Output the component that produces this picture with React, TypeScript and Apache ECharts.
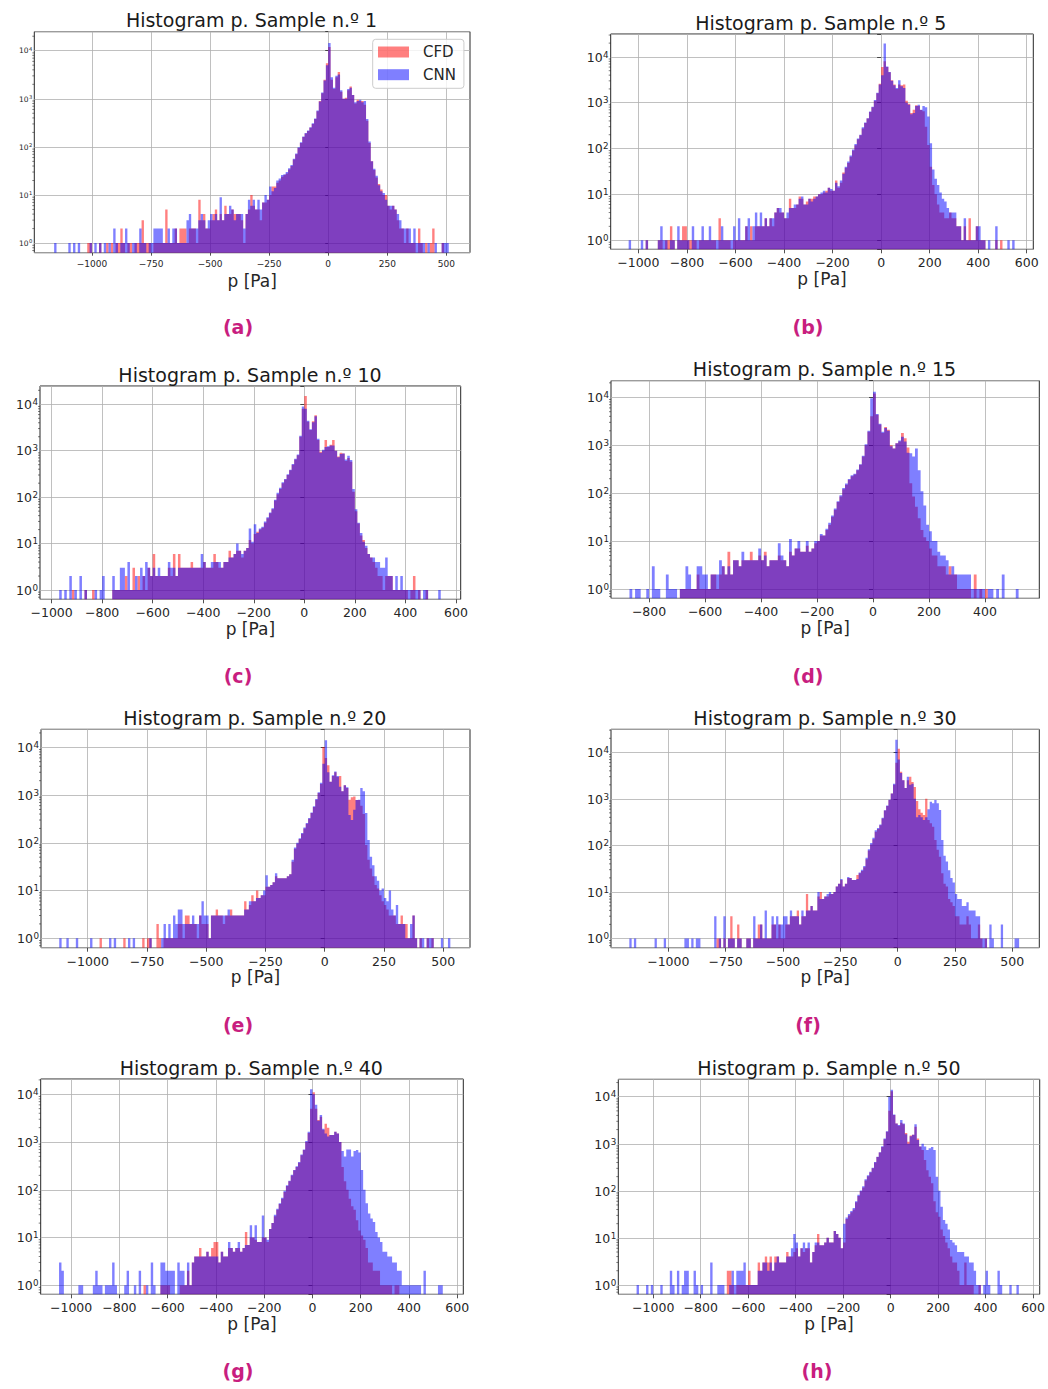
import React, { useEffect, useRef } from "react";
import * as echarts from "echarts";

const FONT = "DejaVu Sans";
const BIN_WIDTH = 10;
const TXT = "#262626";

const titles = [
  "Histogram p. Sample n.º 1",
  "Histogram p. Sample n.º 5",
  "Histogram p. Sample n.º 10",
  "Histogram p. Sample n.º 15",
  "Histogram p. Sample n.º 20",
  "Histogram p. Sample n.º 30",
  "Histogram p. Sample n.º 40",
  "Histogram p. Sample n.º 50",
];
const panelLetters = ["(a)", "(b)", "(c)", "(d)", "(e)", "(f)", "(g)", "(h)"];
const seriesNames = ["CFD", "CNN"];

const ticks250 = [-1000, -750, -500, -250, 0, 250, 500];
const ticks200 = [-1000, -800, -600, -400, -200, 0, 200, 400, 600];
const ticks200d = [-800, -600, -400, -200, 0, 200, 400];

// ---- Sample 1 (a) : bins of 10 Pa starting at -1160
const startA = -1160;
const cfdA = [
  0,0,0,0,0,0,0,0,0,0, 0,0,0,0,1,1,0,0,0,1, 0,0,1,0,1,0,1,1,2,1, 0,1,1,0,1,1,1,3,1,1,
  1,0,1,1,1,1,1,5,1,1, 1,2,1,2,2,2,1,2,2,2, 1,8,3,4,2,2,3,4,5,3, 4,3,6,4,4,5,4,4,4,3,
  1,4,5,10,6,5,5,3,7,7, 8,10,15,15,18,20,24,26,28,34, 40,55,70,95,120,160,190,215,250,300,
  380,550,900,1300,2500,5500,12000,2500,1600,2800, 3600,1400,1000,1050,1500,1800,1200,800,950,900,
  900,750,350,120,50,33,23,17,13,10, 10,6,5,6,5,3,2,2,1,2, 1,1,1,0,2,1,0,1,0,1, 2,0,0,0,1,0,0,0,
];
const cnnA = [
  1,0,0,0,0,0,1,0,1,0, 1,0,0,0,0,1,0,1,0,1, 0,1,0,1,0,2,1,0,1,1, 2,1,0,1,1,0,2,1,1,0,
  1,1,2,2,2,2,1,1,2,1, 2,2,1,1,1,1,3,4,2,2, 2,3,4,3,2,3,4,3,4,3, 9,3,4,4,6,5,3,4,4,4,
  2,4,8,6,8,5,8,5,7,10, 8,15,12,14,20,22,26,27,30,36, 42,57,73,98,125,165,195,220,255,310,
  390,570,880,1350,2400,5000,14500,2800,1700,3000, 3200,1500,1000,1000,1600,1700,1200,850,900,950,
  850,900,380,130,50,35,25,16,12,11, 8,6,6,6,5,4,3,2,2,2, 2,1,2,1,1,1,1,0,1,0, 0,1,0,0,1,1,1,0,
];

// ---- Sample 5 (b)
const startB = -1040;
const cfdB = [
  0,0,0,0,0,0,0,1,0,0, 0,0,1,1,0,1,1,2,1,0, 1,1,2,2,1,1,1,1,0,1, 1,1,1,1,1,1,0,3,1,1,
  1,1,0,1,1,1,1,1,2,1, 2,1,2,2,2,2,3,2,3,2, 4,5,4,4,3,3,8,5,5,6, 9,8,6,7,8,8,9,9,10,10,
  11,12,14,12,12,20,14,18,30,38, 48,66,90,118,160,195,275,360,450,630,
  800,1100,1600,2600,6000,8000,6000,4600,3100,2500, 2000,2500,2400,2500,1100,950,600,700,880,850,
  690,650,300,120,40,16,10,6,4,4, 3,3,4,3,3,2,2,1,2,1, 3,1,1,2,1,1,1,0,0,0, 0,1,0,1,0,0,0,0,0,0,
];
const cnnB = [
  1,0,0,0,0,1,0,1,0,0, 0,0,1,2,1,1,0,1,1,0, 2,1,1,1,1,0,2,1,1,1, 2,1,1,2,1,1,1,1,2,1,
  1,1,1,2,1,3,1,1,2,3, 1,2,4,2,4,2,3,2,3,3, 4,5,5,4,3,4,5,5,6,6, 8,9,6,6,8,7,8,9,10,11,
  12,11,14,13,12,18,15,20,28,40, 52,70,95,125,165,200,290,370,460,640,
  820,1150,1650,2500,4000,19500,6200,4700,3000,2400, 2100,3100,2300,2100,1000,900,560,600,850,900,
  700,850,800,500,130,35,22,16,11,8, 7,5,4,4,4,2,2,1,3,1, 1,1,1,2,2,1,1,0,1,0, 0,2,0,0,0,0,1,0,1,0,
];

// ---- Sample 10 (c)
const startC = -980;
const cfdC = [
  0,0,0,0,0,0,1,0,0,0, 0,1,0,0,1,0,0,0,0,0, 0,0,1,1,1,1,1,2,1,1, 3,1,2,1,2,1,3,2,6,2,
  2,2,2,2,3,2,6,2,6,3, 3,3,3,4,3,3,3,3,4,3, 3,3,6,4,3,3,4,4,7,5, 6,7,7,5,7,8,12,10,16,18,
  20,22,28,35,45,55,85,115,150,200, 240,300,380,500,650,800,2000,8000,15000,4200,
  2800,4300,5800,1700,950,1000,1700,1200,1350,1700, 1000,750,900,870,600,700,580,130,50,27,
  15,12,8,6,5,4,3,2,2,1, 2,2,2,1,1,1,1,1,1,0, 1,2,0,1,0,0,1,0,0,0, 0,0,0,0,0,0,0,0,0,0,
];
const cnnC = [
  0,1,0,1,0,2,0,1,0,2, 0,1,0,0,0,1,0,1,2,0, 0,0,2,1,1,3,3,1,4,1, 1,2,1,3,2,4,3,2,3,2,
  3,2,2,2,4,3,3,2,3,3, 3,3,3,3,3,3,3,6,4,3, 3,4,4,4,4,3,4,4,5,5, 6,10,7,6,7,8,21,11,26,17,
  21,23,30,37,47,58,88,125,160,210, 245,310,390,520,670,830,2100,9000,8000,4400,
  2900,4100,5500,1800,900,1050,1200,1250,1300,1300, 1000,720,850,870,650,780,630,150,55,28,
  17,11,9,6,5,5,4,4,3,3, 5,2,2,1,2,1,2,1,1,1, 1,1,1,1,0,1,1,0,0,0, 0,1,0,0,0,0,0,0,0,0,
];

// ---- Sample 15 (d)
const startD = -870;
const cfdD = [
  0,0,0,0,0,0,0,0,0,0, 0,0,0,0,0,0,0,0,1,1, 1,1,1,1,2,1,1,1,1,2, 2,1,2,3,2,6,2,4,4,3,
  4,4,4,6,4,4,5,4,6,3, 4,4,4,5,4,4,3,6,5,7, 7,6,6,8,6,7,9,10,13,13,
  17,22,32,45,65,85,120,150,190,225, 245,300,390,580,1000,1900,4000,12000,4300,2700,
  1800,2400,2100,1000,850,1100,1200,1800,1400,900, 160,85,52,30,17,12,10,7,5,5,
  3,3,3,2,3,2,2,1,1,1, 1,1,0,2,0,1,0,1,0,0, 0,0,0,0,0,0,0,0,0,0,
];
const cnnD = [
  1,0,1,1,0,0,1,0,3,1, 1,0,0,2,1,1,1,0,1,1, 3,2,1,1,3,3,2,2,1,2, 2,2,4,3,2,3,2,4,4,3,
  6,4,4,4,4,4,7,4,5,3, 4,4,4,9,5,4,3,11,5,7, 10,6,6,10,6,7,10,10,14,13,
  18,24,34,48,68,90,128,158,198,235, 255,310,400,600,1050,2000,9500,13000,4500,2800,
  1900,2300,2000,950,850,1100,1250,1500,1200,700, 680,580,850,300,110,55,22,16,10,10,
  6,5,5,4,2,3,2,2,2,2, 2,2,1,1,1,1,1,0,1,1, 0,1,0,2,0,0,0,0,1,0,
];

// ---- Sample 20 (e)
const startE = -1120;
const cfdE = [
  0,0,0,0,0,0,0,0,0,0, 0,0,0,0,0,0,0,1,0,0, 0,0,0,0,0,0,0,1,0,0, 0,0,0,0,0,1,0,1,1,0,
  0,2,1,0,1,1,1,1,1,1, 2,2,1,3,3,2,2,2,1,3, 2,2,2,1,3,3,4,3,3,2, 3,3,4,3,3,3,3,3,6,4,
  5,8,6,10,7,8,8,12,12,13, 15,20,18,18,18,18,20,22,40,75, 95,120,155,200,250,320,420,560,800,1100,
  1700,10200,6000,4200,1900,2500,3000,2400,2500,1200, 1600,1400,800,900,930,790,790,600,400,90,
  44,29,20,13,11,8,6,5,4,3, 3,3,2,2,3,2,2,1,1,3, 1,0,1,0,0,1,0,1,0,0, 0,0,0,0,0,0,0,0,0,0,
];
const cnnE = [
  1,0,0,1,0,0,0,1,0,0, 0,0,0,1,0,0,0,0,0,0, 0,1,0,1,0,0,0,0,0,1, 0,1,0,0,0,0,0,0,1,0,
  0,0,0,1,2,1,2,1,3,2, 4,4,2,2,2,2,3,2,2,3, 6,3,3,1,3,3,3,3,3,3, 3,4,3,3,3,3,3,3,4,4,
  6,6,6,7,7,8,10,21,12,13, 15,23,18,18,18,18,20,22,44,80, 100,125,160,210,260,330,430,580,830,1150,
  1800,4500,14000,3000,1900,2600,3100,2500,1500,1200, 1600,1450,380,300,490,790,800,1400,1200,420,
  115,51,34,20,16,10,11,7,6,10, 4,3,5,2,2,2,1,1,2,3, 1,0,1,1,0,1,1,1,0,0, 0,1,0,0,1,0,0,0,0,0,
];

// ---- Sample 30 (f)
const startF = -1170;
const cfdF = [
  0,0,0,0,0,0,0,0,0,0, 0,0,0,0,0,0,0,0,0,0, 0,0,0,0,0,0,0,0,0,0, 0,0,0,0,0,0,0,0,1,1,
  0,1,0,1,3,1,0,2,1,0, 0,1,1,0,1,1,2,2,1,1, 1,1,2,2,1,2,1,1,2,2, 3,3,3,4,2,3,3,9,4,5,
  4,4,8,10,7,8,8,9,9,10, 13,15,18,13,15,20,20,18,18,23, 25,28,34,50,78,105,135,195,225,270,
  380,560,700,940,1300,2000,6000,12000,3800,2500, 1700,2500,3000,2300,1800,900,600,500,450,1000,
  350,300,250,130,80,57,25,15,13,7, 6,5,3,3,2,2,2,3,2,1, 1,1,2,1,0,1,0,0,0,0, 0,0,0,0,0,0,0,0,0,0,
];
const cnnF = [
  1,0,1,0,0,0,0,0,0,0, 0,1,0,0,0,1,0,0,0,0, 0,0,0,0,1,1,0,1,0,1, 1,0,0,0,0,0,0,3,0,1,
  0,3,0,1,1,1,0,1,1,0, 0,1,1,0,3,1,1,2,1,4, 1,1,3,2,3,2,2,3,3,2, 4,3,3,3,2,4,3,4,4,5,
  4,4,10,7,7,8,9,10,9,10, 13,15,19,13,15,21,20,18,18,19, 26,30,36,54,82,112,145,210,235,280,
  390,570,720,960,1300,2100,18600,7000,3600,2500, 1700,3000,2000,2100,1000,400,450,400,350,400,
  600,870,800,940,800,575,130,60,45,29, 20,16,9,7,7,5,5,6,4,4, 4,3,3,1,1,1,0,2,1,0, 0,0,2,0,0,0,0,0,1,1,
];

// ---- Sample 40 (g)
const startG = -1050;
const cfdG = [
  0,0,0,0,0,0,0,0,0,0, 0,0,0,0,0,0,0,0,0,0, 0,0,0,0,0,0,0,0,0,0, 0,0,0,0,0,1,0,0,0,0,
  0,0,1,1,1,1,0,0,0,0, 1,1,1,2,1,3,4,4,6,4, 4,5,4,6,8,8,3,5,4,4, 6,6,5,6,6,5,6,13,7,10,
  10,9,8,8,10,10,8,15,20,28, 38,50,65,90,120,150,200,255,300,370,
  530,680,1000,1550,5000,11000,5000,2900,3400,1800, 2400,2000,1400,1400,1650,1500,1000,300,150,100,
  65,45,38,23,14,11,9,6,3,3, 2,2,2,1,1,1,1,1,0,1, 1,0,0,0,0,0,0,0,0,0, 0,0,0,0,0,0,0,0,0,0,
];
const cnnG = [
  3,2,0,0,0,0,0,0,1,1, 0,0,0,0,1,2,1,1,0,1, 1,1,3,1,0,0,0,1,2,0, 0,1,0,2,0,0,1,0,3,1,
  0,0,3,3,2,2,2,2,0,3, 2,2,1,3,1,3,4,4,4,4, 4,5,4,4,4,4,3,5,4,4, 8,6,5,6,8,5,6,7,7,18,
  10,18,8,8,29,10,9,15,20,30, 40,52,68,95,125,155,205,260,310,380,
  550,700,1050,1650,12700,10000,6000,2800,3700,1900, 1500,1300,1400,1400,1650,1500,1000,650,500,700,
  700,500,650,680,600,260,100,52,32,25, 21,13,10,8,5,5,4,4,3,3, 2,2,1,1,1,1,1,1,1,1, 0,2,0,0,0,0,0,1,1,0,
];

// ---- Sample 50 (h)
const startH = -1080;
const cfdH = [
  0,0,0,0,0,0,0,0,0,0, 0,0,0,0,0,0,0,0,0,0, 0,0,0,0,0,0,0,0,0,0, 0,0,0,0,0,0,0,0,0,2,
  2,1,0,1,1,1,1,1,2,1, 1,1,3,2,3,4,3,4,2,4, 4,3,3,3,5,4,4,5,6,4, 6,5,6,6,3,5,7,12,7,7,
  8,10,8,8,14,12,10,6,8,25, 30,35,40,57,78,98,118,165,205,245,
  300,400,520,650,850,1250,1800,5000,13000,4100, 2700,2400,2800,2600,1700,1100,1500,1550,2300,1300,
  870,740,450,275,200,145,60,35,28,15, 11,8,6,4,3,3,2,1,1,3, 1,1,1,0,0,1,0,0,0,0,
  0,0,0,0,0,0,0,0,0,0, 0,0,0,0,0,0,0,0,0,0,
];
const cnnH = [
  0,1,0,0,0,1,0,1,0,0, 0,1,0,0,0,2,1,0,2,0, 1,2,2,0,0,2,1,0,1,0, 0,0,3,0,0,1,1,1,0,0,
  1,2,1,2,2,2,3,1,1,1, 1,1,2,2,3,3,2,3,2,3, 4,3,3,3,4,4,6,12,8,4, 6,8,6,8,3,5,8,8,7,7,
  8,10,8,8,14,12,10,6,20,27, 32,37,43,60,82,102,125,175,215,255,
  310,410,530,660,880,1300,1850,10000,14000,4200, 2700,2500,3200,2700,1600,1000,1450,1550,2600,1200,
  870,1000,870,740,800,850,740,200,100,46, 24,20,15,9,8,7,5,5,5,4, 4,3,3,2,1,1,0,1,2,1,
  0,0,0,2,1,0,0,0,1,0, 0,1,0,0,0,0,0,0,0,0,
];

const starts = [startA, startB, startC, startD, startE, startF, startG, startH];
const cfdAll = [cfdA, cfdB, cfdC, cfdD, cfdE, cfdF, cfdG, cfdH];
const cnnAll = [cnnA, cnnB, cnnC, cnnD, cnnE, cnnF, cnnG, cnnH];
const xTicks = [ticks250, ticks200, ticks200, ticks200d, ticks250, ticks250, ticks200, ticks200];
const xRanges = [
  [-1244, 600], [-1114, 627], [-1046, 619], [-936, 594],
  [-1197, 613], [-1250, 618], [-1126, 625], [-1147, 628],
];
const yExpRanges = [
  [-0.2, 4.395], [-0.2, 4.5], [-0.2, 4.394], [-0.194, 4.346],
  [-0.197, 4.377], [-0.2, 4.495], [-0.19, 4.32], [-0.2, 4.37],
];

// layout (pixels)
const boxes = [
  { l: 34.3, r: 470, t: 31.7, b: 252.7, tx: 251.5, ty: 19.7, lx: 238, ly: 326.5, small: true },
  { l: 610.7, r: 1033.3, t: 34, b: 249.3, tx: 820.8, ty: 22.7, lx: 808, ly: 326.5, small: false },
  { l: 40, r: 460.7, t: 386, b: 599.3, tx: 250, ty: 374.7, lx: 238, ly: 676, small: false },
  { l: 611, r: 1039.3, t: 380.7, b: 598.3, tx: 824.5, ty: 369, lx: 808, ly: 676, small: false },
  { l: 41, r: 470, t: 729.3, b: 947.7, tx: 254.8, ty: 717.7, lx: 238, ly: 1025, small: false },
  { l: 611, r: 1039.3, t: 729.3, b: 947.7, tx: 825, ty: 717.7, lx: 808, ly: 1025, small: false },
  { l: 40.7, r: 463.3, t: 1079, b: 1294.3, tx: 251.3, ty: 1067.7, lx: 238, ly: 1370.5, small: false },
  { l: 618.3, r: 1040, t: 1079.3, b: 1294.3, tx: 829, ty: 1067.7, lx: 817, ly: 1370.5, small: false },
];

const RED = "rgba(255,0,0,0.5)";
const BLUE = "rgba(0,0,255,0.5)";

function stepPoints(api: any, start: number, counts: number[], base: number) {
  const pts: number[][] = [];
  pts.push(api.coord([start, base]));
  for (let i = 0; i < counts.length; i++) {
    const x0 = start + i * BIN_WIDTH;
    const x1 = x0 + BIN_WIDTH;
    const c = counts[i] > 0 ? counts[i] : base;
    pts.push(api.coord([x0, c]));
    pts.push(api.coord([x1, c]));
  }
  pts.push(api.coord([start + counts.length * BIN_WIDTH, base]));
  return pts;
}

function fmtX(v: number) {
  return String(v).replace("-", "\u2212");
}

function buildOption() {
  const grid: any[] = [];
  const xAxis: any[] = [];
  const yAxis: any[] = [];
  const series: any[] = [];
  const title: any[] = [];

  boxes.forEach((bx, i) => {
    const small = bx.small;
    const fs = small ? 9 : 12.5;
    const yfs = small ? 7.5 : 12.5;
    const base = Math.pow(10, yExpRanges[i][0]);
    const yMax = Math.pow(10, yExpRanges[i][1]);
    const xMin = xRanges[i][0];

    grid.push({
      left: bx.l, top: bx.t, width: bx.r - bx.l, height: bx.b - bx.t,
      show: true, borderColor: TXT, borderWidth: 1, backgroundColor: "transparent",
      containLabel: false,
    });

    xAxis.push({
      type: "value", gridIndex: i, min: xRanges[i][0], max: xRanges[i][1],
      axisLine: { show: false },
      axisTick: { show: true, length: small ? 3 : 4, customValues: xTicks[i], lineStyle: { color: TXT, width: 0.8 } },
      axisLabel: { customValues: xTicks[i], formatter: fmtX, fontSize: fs, margin: 7, color: TXT, fontFamily: FONT },
      splitLine: { show: true, lineStyle: { color: "#b0b0b0", width: 0.8 } },
      name: "p [Pa]", nameLocation: "middle", nameGap: 20,
      nameTextStyle: { fontSize: 17, color: TXT, fontFamily: FONT },
    });

    yAxis.push({
      type: "log", logBase: 10, gridIndex: i, min: base, max: yMax,
      axisLine: { show: false },
      axisTick: { show: true, length: small ? 3 : 4, lineStyle: { color: TXT, width: 0.8 } },
      splitLine: { show: true, lineStyle: { color: "#b0b0b0", width: 0.8 } },
      axisLabel: {
        margin: 2,
        formatter: (v: number) => {
          const lg = Math.log10(v);
          const e = Math.round(lg);
          if (Math.abs(lg - e) > 1e-6) return "";
          return "{b|10}{s|" + e + "}";
        },
        rich: {
          b: { fontSize: yfs, fontFamily: FONT, color: TXT, verticalAlign: "bottom", lineHeight: yfs + 1 },
          s: {
            fontSize: yfs * 0.7, fontFamily: FONT, color: TXT, verticalAlign: "top",
            lineHeight: yfs * 0.7, padding: [0, 0, yfs * 0.45, 0.5],
          },
        },
      },
    });

    const start = starts[i];
    const cfd = cfdAll[i];
    const cnn = cnnAll[i];

    series.push({
      type: "custom", name: seriesNames[0], xAxisIndex: i, yAxisIndex: i,
      coordinateSystem: "cartesian2d", silent: true, clip: false,
      itemStyle: { color: RED },
      data: [[0, 1]],
      renderItem: (_p: any, api: any) => ({
        type: "polygon",
        shape: { points: stepPoints(api, start, cfd, base) },
        style: { fill: RED },
      }),
    });

    series.push({
      type: "custom", name: seriesNames[1], xAxisIndex: i, yAxisIndex: i,
      coordinateSystem: "cartesian2d", silent: true, clip: false,
      itemStyle: { color: BLUE },
      data: [[0, 1]],
      renderItem: (_p: any, api: any) => {
        const children: any[] = [
          { type: "polygon", shape: { points: stepPoints(api, start, cnn, base) }, style: { fill: BLUE } },
        ];
        for (let e = -1; e <= 4; e++) {
          for (let k = 2; k <= 9; k++) {
            const v = k * Math.pow(10, e);
            if (v <= base || v >= yMax) continue;
            const pt = api.coord([xMin, v]);
            children.push({
              type: "line",
              shape: { x1: pt[0] - 2, y1: pt[1], x2: pt[0], y2: pt[1] },
              style: { stroke: TXT, lineWidth: 0.6 },
            });
          }
        }
        return { type: "group", children };
      },
    });

    title.push({
      text: titles[i], left: bx.tx, top: bx.ty, textAlign: "center", textVerticalAlign: "middle",
      padding: 0,
      textStyle: { fontSize: 19, fontWeight: "normal", color: "#1a1a1a", fontFamily: FONT },
    });
    title.push({
      text: panelLetters[i], left: bx.lx, top: bx.ly, textAlign: "center", textVerticalAlign: "middle",
      padding: 0,
      textStyle: { fontSize: 19, fontWeight: "bold", color: "#c81e7f", fontFamily: FONT },
    });
  });

  return {
    animation: false,
    backgroundColor: "#ffffff",
    textStyle: { fontFamily: FONT },
    title,
    grid,
    xAxis,
    yAxis,
    series,
    legend: {
      left: 372.7, top: 39.3, orient: "vertical",
      padding: [4.7, 8, 5.6, 5.3], itemGap: 6.7, itemWidth: 31, itemHeight: 11,
      backgroundColor: "rgba(255,255,255,0.8)", borderColor: "#cccccc", borderWidth: 1, borderRadius: 3,
      selectedMode: false,
      textStyle: { fontSize: 15, lineHeight: 16, padding: [0, 0, 0, 9], color: TXT, fontFamily: FONT },
      data: [
        { name: "CFD", icon: "rect" },
        { name: "CNN", icon: "rect" },
      ],
    },
  };
}

export default function App() {
  const ref = useRef<HTMLDivElement>(null);
  useEffect(() => {
    if (!ref.current) return;
    const chart = echarts.init(ref.current, undefined, { renderer: "svg" });
    chart.setOption(buildOption() as any);
    return () => chart.dispose();
  }, []);
  return (
    <div
      ref={ref}
      style={{ position: "absolute", left: 0, top: 0, width: 1048, height: 1389, background: "#fff" }}
    />
  );
}
